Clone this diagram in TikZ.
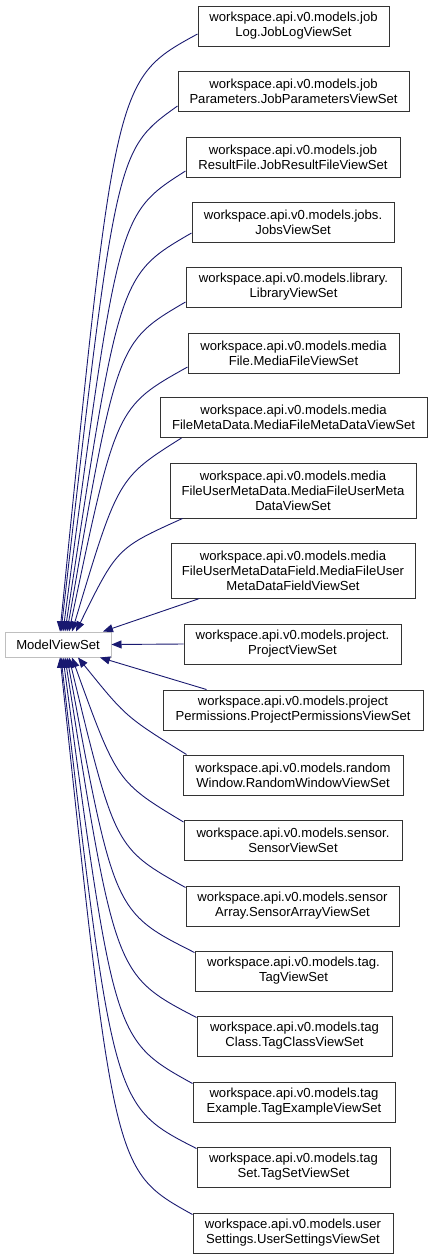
\documentclass[tikz,border=0pt]{standalone}
\usepackage{fontspec}
\setmainfont{Liberation Sans}
\usetikzlibrary{arrows.meta}
\definecolor{edgeblue}{HTML}{191970}
\definecolor{mvsgray}{HTML}{BFBFBF}
\begin{document}
\begin{tikzpicture}[x=1pt,y=-1pt,
  cls/.style={draw=black!80, line width=1pt, fill=white, inner sep=0pt, align=center, minimum height=40pt, font=\fontsize{13.1}{15}\selectfont},
  tall/.style={minimum height=55pt},
  base/.style={draw=mvsgray, line width=1pt, fill=white, inner sep=0pt, minimum width=106pt, minimum height=25pt, font=\fontsize{13.1}{15}\selectfont},
  inh/.style={draw=edgeblue, line width=0.9pt, -{Triangle[length=10pt,width=8pt]}}
]
\useasboundingbox (0,0) rectangle (432,1259);

\node[base] (mvs) at (58,644.5) {ModelViewSet};

\node[cls, minimum width=191pt] (n1) at (293.5,26) {workspace.api.v0.models.job\\Log.JobLogViewSet};
\node[cls, minimum width=231pt] (n2) at (293.5,91) {workspace.api.v0.models.job\\Parameters.JobParametersViewSet};
\node[cls, minimum width=214pt] (n3) at (293,157) {workspace.api.v0.models.job\\ResultFile.JobResultFileViewSet};
\node[cls, minimum width=202pt] (n4) at (293,222) {workspace.api.v0.models.jobs.\\JobsViewSet};
\node[cls, minimum width=215pt] (n5) at (293.5,287) {workspace.api.v0.models.library.\\LibraryViewSet};
\node[cls, minimum width=211pt] (n6) at (293.5,353) {workspace.api.v0.models.media\\File.MediaFileViewSet};
\node[cls, minimum width=267pt] (n7) at (293.5,417.5) {workspace.api.v0.models.media\\FileMetaData.MediaFileMetaDataViewSet};
\node[cls, tall, minimum width=246pt] (n8) at (293,490.5) {workspace.api.v0.models.media\\FileUserMetaData.MediaFileUserMeta\\DataViewSet};
\node[cls, tall, minimum width=244pt] (n9) at (293,570.5) {workspace.api.v0.models.media\\FileUserMetaDataField.MediaFileUser\\MetaDataFieldViewSet};
\node[cls, minimum width=217pt] (n10) at (292.5,644) {workspace.api.v0.models.project.\\ProjectViewSet};
\node[cls, minimum width=260pt] (n11) at (293,710) {workspace.api.v0.models.project\\Permissions.ProjectPermissionsViewSet};
\node[cls, minimum width=220pt] (n12) at (293,775) {workspace.api.v0.models.random\\Window.RandomWindowViewSet};
\node[cls, minimum width=218pt] (n13) at (293,840.5) {workspace.api.v0.models.sensor.\\SensorViewSet};
\node[cls, minimum width=213pt] (n14) at (292.5,906) {workspace.api.v0.models.sensor\\Array.SensorArrayViewSet};
\node[cls, minimum width=197pt] (n15) at (293.5,971) {workspace.api.v0.models.tag.\\TagViewSet};
\node[cls, minimum width=195pt] (n16) at (294.5,1036) {workspace.api.v0.models.tag\\Class.TagClassViewSet};
\node[cls, minimum width=202pt] (n17) at (294,1102) {workspace.api.v0.models.tag\\Example.TagExampleViewSet};
\node[cls, minimum width=193pt] (n18) at (293.5,1167) {workspace.api.v0.models.tag\\Set.TagSetViewSet};
\node[cls, minimum width=200pt] (n19) at (293,1233) {workspace.api.v0.models.user\\Settings.UserSettingsViewSet};

% edges from above
\draw[inh] ([yshift=-8pt]n1.west) .. controls (115,79) .. ([xshift=2pt]mvs.north);
\draw[inh] ([yshift=-15pt]n2.west) .. controls (116,150) .. ([xshift=3pt]mvs.north);
\draw[inh] ([yshift=-14pt]n3.west) .. controls (118,214) .. ([xshift=5pt]mvs.north);
\draw[inh] ([yshift=-11pt]n4.west) .. controls (119,275) .. ([xshift=7pt]mvs.north);
\draw[inh] ([yshift=-15pt]n5.west) .. controls (117,342) .. ([xshift=9pt]mvs.north);
\draw[inh] ([yshift=-14pt]n6.west) .. controls (116,407) .. ([xshift=11pt]mvs.north);
\draw[inh] ([xshift=22pt]n7.south west) .. controls (118,478) .. ([xshift=14pt]mvs.north);
\draw[inh] ([xshift=13pt]n8.south west) .. controls (117,548) .. ([xshift=18pt]mvs.north);
\draw[inh] ([xshift=29pt]n9.south west) -- ([xshift=45pt]mvs.north);
% horizontal
\draw[inh] (n10.west) -- (mvs.east);
% edges from below
\draw[inh] ([xshift=44pt]n11.north west) -- ([xshift=42pt]mvs.south);
\draw[inh] ([xshift=4pt]n12.north west) .. controls (126,717) .. ([xshift=20pt]mvs.south);
\draw[inh] ([yshift=-2pt]n13.north west) .. controls (117,782) .. ([xshift=14pt]mvs.south);
\draw[inh] ([yshift=-2pt]n14.north west) .. controls (115,848) .. ([xshift=11pt]mvs.south);
\draw[inh] ([yshift=-2pt]n15.north west) .. controls (114,912) .. ([xshift=9pt]mvs.south);
\draw[inh] ([yshift=-2pt]n16.north west) .. controls (115,975) .. ([xshift=7pt]mvs.south);
\draw[inh] ([yshift=-2pt]n17.north west) .. controls (114,1040) .. ([xshift=5pt]mvs.south);
\draw[inh] ([yshift=-2pt]n18.north west) .. controls (113,1106) .. ([xshift=3pt]mvs.south);
\draw[inh] ([yshift=-2pt]n19.north west) .. controls (114,1171) .. ([xshift=2pt]mvs.south);
\end{tikzpicture}
\end{document}
